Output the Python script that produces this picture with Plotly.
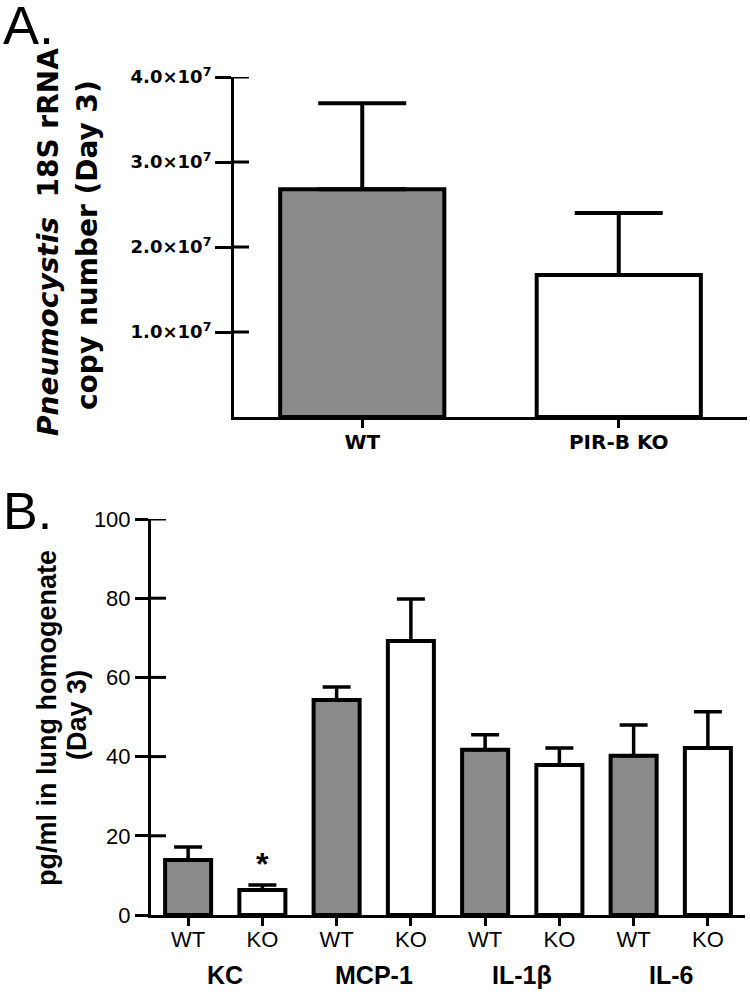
import plotly.graph_objects as go

# ---------------- Panel A data ----------------
a_categories = ["WT", "PIR-B KO"]
a_values = [2.68e7, 1.67e7]
a_errors = [1.01e7, 0.73e7]
a_colors = ["#8a8a8a", "#ffffff"]
a_tickvals = [1e7, 2e7, 3e7, 4e7]
a_ticktext = ["1.0×10<sup>7</sup>", "2.0×10<sup>7</sup>", "3.0×10<sup>7</sup>", "4.0×10<sup>7</sup>"]

# ---------------- Panel B data ----------------
b_keys = ["KC-WT", "KC-KO", "MCP1-WT", "MCP1-KO", "IL1b-WT", "IL1b-KO", "IL6-WT", "IL6-KO"]
b_ticklabels = ["WT", "KO", "WT", "KO", "WT", "KO", "WT", "KO"]
b_groups = ["KC", "MCP-1", "IL-1β", "IL-6"]
b_values = [13.9, 6.3, 54.3, 69.2, 41.7, 37.9, 40.2, 42.2]
b_errors = [3.3, 1.3, 3.3, 10.6, 3.8, 4.3, 7.8, 9.1]
b_colors = ["#8a8a8a", "#ffffff"] * 4
b_tickvals = [0, 20, 40, 60, 80, 100]

W, H = 750, 992
def px(x):
    return x / W
def py(y):
    return 1 - y / H

FA = "DejaVu Sans"
FB = "Liberation Sans, Arial"

fig = go.Figure()

fig.add_trace(go.Bar(
    x=a_categories, y=a_values, xaxis="x", yaxis="y",
    width=0.64,
    marker=dict(color=a_colors, line=dict(color="black", width=4)),
    error_y=dict(type="data", array=a_errors, arrayminus=[0, 0], symmetric=False,
                 color="black", thickness=4, width=44),
    showlegend=False, hoverinfo="skip",
))

fig.add_trace(go.Bar(
    x=b_keys, y=b_values, xaxis="x2", yaxis="y2",
    width=0.62,
    marker=dict(color=b_colors, line=dict(color="black", width=4)),
    error_y=dict(type="data", array=b_errors, arrayminus=[0] * 8, symmetric=False,
                 color="black", thickness=3.5, width=14),
    showlegend=False, hoverinfo="skip",
))

axis_common = dict(showgrid=False, zeroline=False, showline=True, linecolor="black",
                   linewidth=3, tickcolor="black", tickwidth=3, automargin=False)

fig.update_layout(
    width=W, height=H,
    autosize=False,
    margin=dict(l=0, r=0, t=0, b=0, pad=0, autoexpand=False),
    paper_bgcolor="white", plot_bgcolor="rgba(0,0,0,0)",
    bargap=0,
    xaxis=dict(domain=[px(234), px(747)], anchor="y", range=[-0.5, 1.5],
               ticks="outside", ticklen=8, ticklabelstandoff=-3,
               tickfont=dict(family=FA, size=20, color="black", weight="bold"),
               **axis_common),
    yaxis=dict(domain=[py(417), py(77)], anchor="x", range=[0, 4e7],
               tickmode="array", tickvals=a_tickvals, ticktext=a_ticktext,
               ticks="outside", ticklen=16,
               tickfont=dict(family=FA, size=18, color="black", weight="bold"),
               **axis_common),
    xaxis2=dict(domain=[px(151), px(745)], anchor="y2", range=[-0.5, 7.5],
                tickmode="array", tickvals=b_keys, ticktext=b_ticklabels,
                ticks="outside", ticklen=8, ticklabelstandoff=-5,
                tickfont=dict(family=FB, size=22, color="black"),
                **axis_common),
    yaxis2=dict(domain=[py(915), py(519)], anchor="x2", range=[0, 100],
                tickmode="array", tickvals=b_tickvals,
                ticks="outside", ticklen=13,
                tickfont=dict(family=FB, size=22, color="black"),
                **axis_common),
)

# inner half of the crossing y ticks, placed through each axis' own scale
shapes = []
for v in a_tickvals:
    shapes.append(dict(type="line", xref="x domain", yref="y", xsizemode="pixel", xanchor=0,
                       x0=-1, x1=15, y0=v, y1=v, line=dict(color="black", width=3)))
for v in b_tickvals[1:]:
    shapes.append(dict(type="line", xref="x2 domain", yref="y2", xsizemode="pixel", xanchor=0,
                       x0=-1, x1=15, y0=v, y1=v, line=dict(color="black", width=3)))
fig.update_layout(shapes=shapes)

ann = []
# Panel letters
ann.append(dict(text="A.", x=px(1), y=py(21), xref="paper", yref="paper",
                xanchor="left", yanchor="middle", yshift=-4, showarrow=False,
                font=dict(family=FB, size=54, color="black")))
ann.append(dict(text="B.", x=px(1), y=py(507), xref="paper", yref="paper",
                xanchor="left", yanchor="middle", yshift=-4, showarrow=False,
                font=dict(family=FB, size=52, color="black")))
# Panel A y title
ann.append(dict(text="<i>Pneumocystis</i>\u00a0 18S rRNA", x=px(49), y=py(242),
                xref="paper", yref="paper", xanchor="center", yanchor="middle",
                textangle=-90, showarrow=False,
                font=dict(family=FA, size=28, color="black", weight="bold")))
ann.append(dict(text="copy number (Day 3)", x=px(88), y=py(245),
                xref="paper", yref="paper", xanchor="center", yanchor="middle",
                textangle=-90, showarrow=False,
                font=dict(family=FA, size=28, color="black", weight="bold")))
# Panel B y title
ann.append(dict(text="pg/ml in lung homogenate", x=px(47), y=py(718),
                xref="paper", yref="paper", xanchor="center", yanchor="middle",
                textangle=-90, showarrow=False,
                font=dict(family=FB, size=27, color="black", weight="bold")))
ann.append(dict(text="(Day 3)", x=px(77), y=py(715),
                xref="paper", yref="paper", xanchor="center", yanchor="middle",
                textangle=-90, showarrow=False,
                font=dict(family=FB, size=27, color="black", weight="bold")))
# Group labels
for i, g in enumerate(b_groups):
    ann.append(dict(text=g, x=2 * i + 0.5, xref="x2", y=py(975), yref="paper",
                    xanchor="center", yanchor="middle", showarrow=False,
                    font=dict(family=FB, size=25, color="black", weight="bold")))
# Significance star
ann.append(dict(text="*", x=b_keys[1], xref="x2", y=b_values[1] + b_errors[1], yref="y2",
                xanchor="center", yanchor="bottom", yshift=1, showarrow=False,
                font=dict(family=FB, size=32, color="black", weight="bold")))

fig.update_layout(annotations=ann)

fig.write_html("out.html",
               config={"displayModeBar": False, "staticPlot": True},
               post_script="document.body.style.margin='0px';document.body.style.padding='0px';")
